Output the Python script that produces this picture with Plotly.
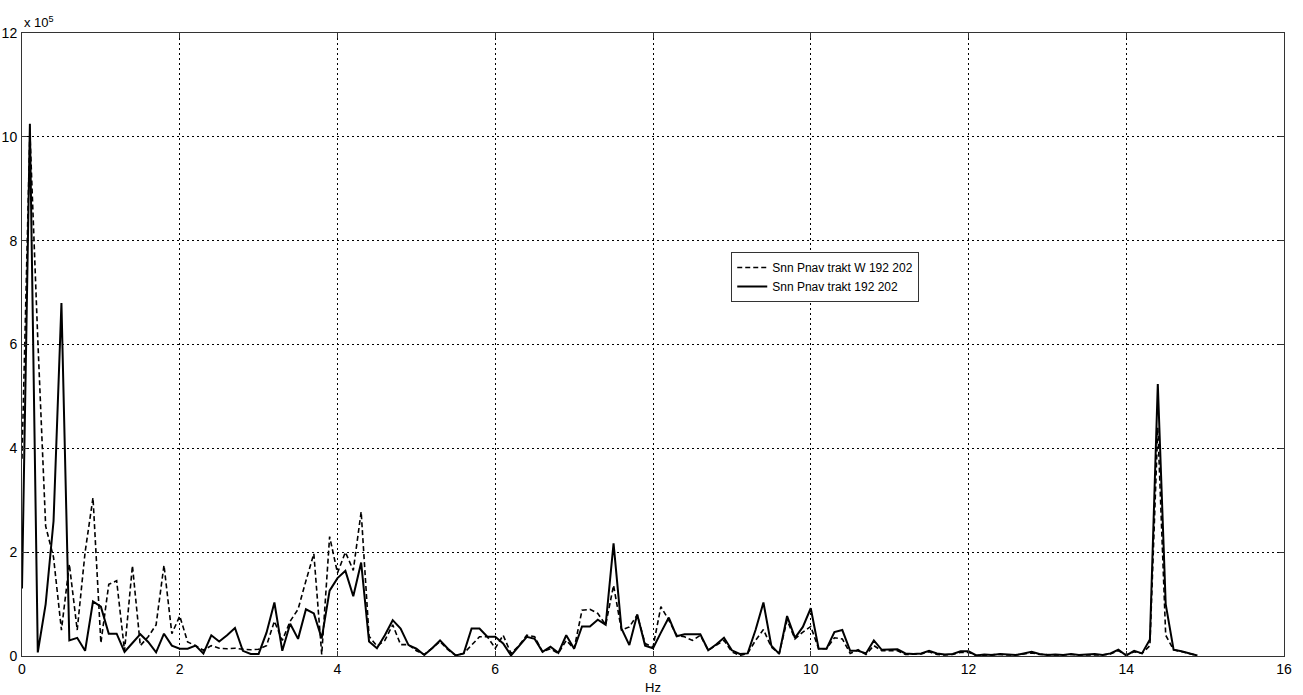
import plotly.graph_objects as go

# Frequency grid (Hz), 0.1 Hz resolution, 0 .. 14.9 Hz
freq_step = 0.1
n_points = 150
freqs = [round(i * freq_step, 1) for i in range(n_points)]

# Values in units of 1e5
snn_w = [
    3.8, 10.1, 6.1, 2.5, 1.9, 0.5, 1.77, 0.5, 2.0, 3.05,
    0.25, 1.38, 1.45, 0.1, 1.74, 0.2, 0.37, 0.6, 1.75, 0.43,
    0.77, 0.27, 0.2, 0.11, 0.2, 0.15, 0.14, 0.15, 0.13, 0.12,
    0.13, 0.2, 0.67, 0.3, 0.67, 0.9, 1.45, 1.97, 0.03, 2.3,
    1.6, 2.0, 1.65, 2.78, 0.38, 0.19, 0.3, 0.6, 0.22, 0.22,
    0.1, 0.03, 0.15, 0.28, 0.12, 0.01, 0.05, 0.2, 0.37, 0.37,
    0.15, 0.4, 0.05, 0.2, 0.4, 0.37, 0.08, 0.14, 0.05, 0.3,
    0.14, 0.88, 0.9, 0.82, 0.6, 1.36, 0.5, 0.56, 0.79, 0.24,
    0.17, 0.95, 0.69, 0.4, 0.37, 0.3, 0.4, 0.11, 0.2, 0.3,
    0.08, 0.01, 0.05, 0.3, 0.51, 0.17, 0.05, 0.69, 0.33, 0.46,
    0.57, 0.14, 0.14, 0.35, 0.33, 0.05, 0.12, 0.03, 0.2, 0.1,
    0.1, 0.1, 0.03, 0.03, 0.04, 0.08, 0.03, 0.02, 0.03, 0.07,
    0.07, 0.01, 0.02, 0.02, 0.03, 0.02, 0.02, 0.04, 0.06, 0.03,
    0.02, 0.02, 0.02, 0.03, 0.02, 0.02, 0.03, 0.02, 0.04, 0.1,
    0.02, 0.08, 0.05, 0.2, 4.4, 0.4, 0.12, 0.08, 0.04, 0.01,
]

snn = [
    1.3, 10.25, 0.07, 1.0, 2.6, 6.8, 0.3, 0.35, 0.1, 1.05,
    0.95, 0.43, 0.43, 0.08, 0.25, 0.42, 0.27, 0.07, 0.43, 0.2,
    0.14, 0.14, 0.2, 0.05, 0.4, 0.28, 0.4, 0.54, 0.1, 0.04,
    0.04, 0.45, 1.03, 0.1, 0.62, 0.33, 0.9, 0.82, 0.34, 1.26,
    1.5, 1.64, 1.15, 1.8, 0.28, 0.15, 0.4, 0.69, 0.53, 0.21,
    0.14, 0.02, 0.15, 0.3, 0.14, 0.01, 0.05, 0.53, 0.53, 0.37,
    0.37, 0.24, 0.01, 0.18, 0.37, 0.33, 0.08, 0.18, 0.06, 0.4,
    0.14, 0.57, 0.57, 0.7, 0.6, 2.17, 0.53, 0.21, 0.8, 0.2,
    0.15, 0.45, 0.74, 0.38, 0.42, 0.42, 0.42, 0.11, 0.22, 0.35,
    0.11, 0.04, 0.05, 0.5, 1.03, 0.2, 0.04, 0.77, 0.35, 0.56,
    0.92, 0.14, 0.14, 0.46, 0.5, 0.1, 0.1, 0.05, 0.3, 0.12,
    0.13, 0.13, 0.05, 0.04, 0.05, 0.1, 0.05, 0.03, 0.04, 0.09,
    0.09, 0.01, 0.03, 0.02, 0.04, 0.03, 0.02, 0.05, 0.08, 0.04,
    0.02, 0.03, 0.02, 0.04, 0.02, 0.03, 0.04, 0.02, 0.05, 0.12,
    0.01, 0.1, 0.05, 0.32, 5.24, 1.0, 0.12, 0.09, 0.05, 0.01,
]

series_names = ["Snn Pnav trakt W 192 202", "Snn Pnav trakt 192 202"]
x_ticks = [0, 2, 4, 6, 8, 10, 12, 14, 16]
y_ticks = [0, 2, 4, 6, 8, 10, 12]

fig = go.Figure()
fig.add_trace(go.Scatter(
    x=freqs, y=snn_w, mode="lines", name=series_names[0],
    line=dict(color="black", width=1.6, dash="5px,3px"),
))
fig.add_trace(go.Scatter(
    x=freqs, y=snn, mode="lines", name=series_names[1],
    line=dict(color="black", width=2),
))

font_family = "Liberation Sans Narrow, Liberation Sans, Arial"
axis_font = dict(family=font_family, size=14, color="black")

fig.update_layout(
    width=1303, height=695,
    margin=dict(l=22, r=19, t=33, b=39, autoexpand=False),
    paper_bgcolor="white", plot_bgcolor="white",
    showlegend=True,
    legend=dict(
        x=0.562, y=0.6485, xanchor="left", yanchor="top",
        bgcolor="white", bordercolor="#333333", borderwidth=1,
        font=dict(family=font_family, size=12, color="black"),
        tracegroupgap=0, itemwidth=30,
    ),
    xaxis=dict(
        range=[0, 16], tickvals=x_ticks, ticktext=[str(v) for v in x_ticks],
        showgrid=True, gridcolor="black", griddash="2px,3px", gridwidth=1,
        showline=True, linecolor="#333333", linewidth=1, mirror="ticks",
        ticks="inside", ticklen=5, tickcolor="#333333",
        zeroline=False, tickfont=axis_font, automargin=False,
    ),
    yaxis=dict(
        range=[0, 12], tickvals=y_ticks, ticktext=[str(v) for v in y_ticks],
        showgrid=True, gridcolor="black", griddash="2px,3px", gridwidth=1,
        showline=True, linecolor="#333333", linewidth=1, mirror="ticks",
        ticks="inside", ticklen=5, tickcolor="#333333",
        zeroline=False, tickfont=axis_font, ticklabelstandoff=1,
        automargin=False,
    ),
    annotations=[
        dict(
            x=0, y=1, xref="paper", yref="paper", xanchor="left", yanchor="bottom",
            text="x 10<sup>5</sup>", showarrow=False, xshift=0, yshift=1,
            font=dict(family=font_family, size=13, color="black"),
        ),
        dict(
            x=0.5, y=0, xref="paper", yref="paper", xanchor="center", yanchor="middle",
            text="Hz", showarrow=False, yshift=-31,
            font=dict(family=font_family, size=13, color="black"),
        ),
    ],
)

fig.write_html(
    "out.html",
    config={"displayModeBar": False},
    post_script="document.body.style.margin='0px';",
)
